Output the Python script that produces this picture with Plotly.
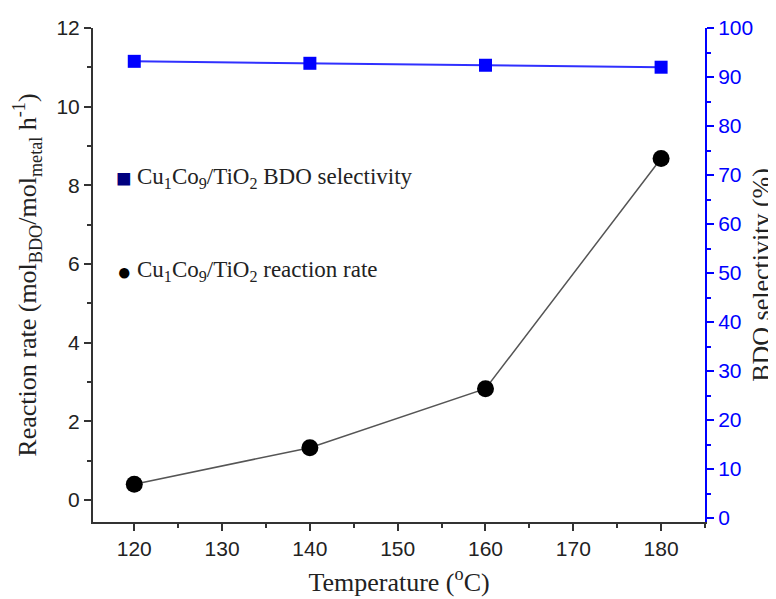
import plotly.graph_objects as go

temps = [120, 140, 160, 180]
rate = [0.40, 1.33, 2.83, 8.68]
selectivity = [93.2, 92.8, 92.4, 92.0]

left_ticks = [0, 2, 4, 6, 8, 10, 12]
right_ticks = [0, 10, 20, 30, 40, 50, 60, 70, 80, 90, 100]
x_ticks = [120, 130, 140, 150, 160, 170, 180]

legend_sel = "Cu<sub>1</sub>Co<sub>9</sub>/TiO<sub>2</sub> BDO selectivity"
legend_rate = "Cu<sub>1</sub>Co<sub>9</sub>/TiO<sub>2</sub> reaction rate"

serif = "Liberation Serif"
sans = "Liberation Sans"

fig = go.Figure()
fig.add_trace(go.Scatter(
    x=temps, y=rate, mode="lines+markers", name="rate",
    line=dict(color="#555555", width=1.5),
    marker=dict(symbol="circle", size=17, color="black"),
    xaxis="x", yaxis="y"))
fig.add_trace(go.Scatter(
    x=temps, y=selectivity, mode="lines+markers", name="sel",
    line=dict(color="#3030ff", width=2),
    marker=dict(symbol="square", size=13, color="#0000ff"),
    xaxis="x", yaxis="y2"))

# the page body has an 8px margin, so the figure is made 8px smaller and offset
fig.update_layout(
    width=768, height=591,
    margin=dict(l=85, r=71, t=20, b=77),
    paper_bgcolor="white", plot_bgcolor="white",
    showlegend=False,
    xaxis=dict(
        range=[115.3, 185.0], tickvals=x_ticks, ticks="outside", ticklen=7,
        tickwidth=1.5, tickcolor="#333", showline=True, linecolor="#333",
        linewidth=2, showgrid=False, zeroline=False, automargin=False,
        minor=dict(dtick=5, tick0=115, ticks="outside", ticklen=4, tickcolor="#333", tickwidth=1.5),
        tickfont=dict(family=sans, size=21, color="#222"),
        title=dict(text="Temperature (<sup>o</sup>C)", font=dict(family=serif, size=26, color="#222"), standoff=14)),
    xaxis2=dict(
        range=[115.3, 185.0], overlaying="x", side="top", tickvals=x_ticks,
        ticks="inside", ticklen=7, tickwidth=1.5, tickcolor="#333",
        showline=True, linecolor="#333", linewidth=2, showticklabels=False,
        showgrid=False, zeroline=False, automargin=False, anchor="y",
        minor=dict(dtick=5, tick0=115, ticks="inside", ticklen=4, tickcolor="#333", tickwidth=1.5)),
    yaxis=dict(
        range=[-0.56, 12.0], tickvals=left_ticks, ticks="outside", ticklen=7,
        tickwidth=1.5, tickcolor="#333", showline=True, linecolor="#333",
        linewidth=2, showgrid=False, zeroline=False, automargin=False,
        minor=dict(dtick=1, tick0=0, ticks="outside", ticklen=4, tickcolor="#333", tickwidth=1.5),
        tickfont=dict(family=sans, size=21, color="#222"),
        title=dict(text="Reaction rate (mol<sub>BDO</sub>/mol<sub>metal</sub> h<sup>-1</sup>)",
                   font=dict(family=serif, size=26, color="#222"), standoff=12)),
    yaxis2=dict(
        range=[-0.8, 100.0], overlaying="y", side="right", tickvals=right_ticks,
        ticks="outside", ticklen=7, tickwidth=1.5, tickcolor="#0000ff",
        showline=True, linecolor="#0000ff", linewidth=2, showgrid=False, zeroline=False,
        automargin=False,
        minor=dict(dtick=5, tick0=0, ticks="outside", ticklen=4, tickcolor="#0000ff", tickwidth=1.5),
        tickfont=dict(family=sans, size=21, color="#0000ff"),
        title=dict(text="BDO selectivity (%)", font=dict(family=serif, size=26, color="#222"), standoff=2)),
)

fig.add_annotation(
    x=0.0507, y=0.696, xref="paper", yref="paper", xanchor="center", yanchor="middle",
    showarrow=False, text="■", font=dict(family=sans, size=26, color="#00007f"))
fig.add_annotation(
    x=0.068, y=0.696, xref="paper", yref="paper", xanchor="left", yanchor="middle",
    showarrow=False, text=legend_sel, font=dict(family=serif, size=23, color="#222"))
fig.add_annotation(
    x=0.0507, y=0.508, xref="paper", yref="paper", xanchor="center", yanchor="middle",
    showarrow=False, text="●", font=dict(family=sans, size=24, color="black"))
fig.add_annotation(
    x=0.068, y=0.508, xref="paper", yref="paper", xanchor="left", yanchor="middle",
    showarrow=False, text=legend_rate, font=dict(family=serif, size=23, color="#222"))

fig.write_html("out.html")
